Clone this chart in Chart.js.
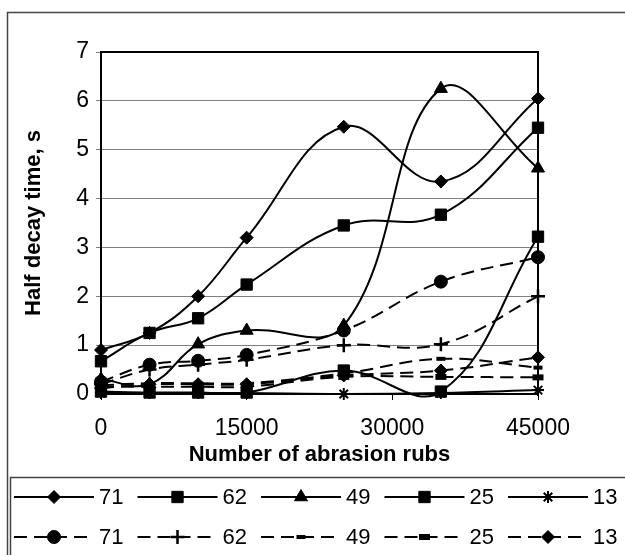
<!DOCTYPE html>
<html>
<head>
<meta charset="utf-8">
<script src="https://cdn.jsdelivr.net/npm/chart.js@4"></script>
<style>
  html, body { margin: 0; padding: 0; background: #fff; }
</style>
</head>
<body>
<canvas id="myChart" width="625" height="555"></canvas>
<script>
// abrasion rubs (x) and half decay time in s (y), one array per series
const rubs = [0, 5000, 10000, 15000, 25000, 35000, 45000];
const seriesNames = ['71', '62', '49', '25', '13', '71', '62', '49', '25', '13'];
const solid71 = [0.9, 1.25, 2.0, 3.2, 5.47, 4.35, 6.05];
const solid62 = [0.67, 1.25, 1.55, 2.24, 3.45, 3.67, 5.45];
const solid49 = [0.3, 0.2, 1.02, 1.3, 1.4, 6.25, 4.62];
const solid25 = [0.05, 0.03, 0.03, 0.03, 0.48, 0.05, 3.22];
const solid13 = [0.02, 0.02, 0.02, 0.02, 0.0, 0.02, 0.08];
const dashed71 = [0.25, 0.6, 0.68, 0.8, 1.3, 2.3, 2.8];
const dashed62 = [0.2, 0.5, 0.6, 0.7, 1.0, 1.02, 2.0];
const dashed49 = [0.18, 0.22, 0.22, 0.22, 0.42, 0.72, 0.54];
const dashed25 = [0.15, 0.15, 0.15, 0.15, 0.35, 0.35, 0.34];
const dashed13 = [0.12, 0.2, 0.2, 0.2, 0.38, 0.48, 0.75];
const xTicks = [0, 15000, 30000, 45000];

const FONT = "'Liberation Sans', Arial, sans-serif";
Chart.defaults.font.family = FONT;
Chart.defaults.color = '#000';

const makeSet = (name, values, style, radius, bw, dashed) => ({
    label: name,
    data: values.map((v, i) => ({ x: rubs[i], y: v })),
    borderColor: '#000',
    borderWidth: 2,
    borderDash: dashed ? [13, 7] : [],
    pointStyle: style,
    pointRadius: radius,
    pointBorderWidth: bw,
    pointBackgroundColor: '#000',
    pointBorderColor: '#000',
    clip: false
});

const datasets = [
    makeSet(seriesNames[0], solid71, 'rectRot', 6.5, 1, false),
    makeSet(seriesNames[1], solid62, 'rect', 8, 1, false),
    makeSet(seriesNames[2], solid49, 'triangle', 7.5, 1, false),
    makeSet(seriesNames[3], solid25, 'rect', 8, 1, false),
    makeSet(seriesNames[4], solid13, 'star', 6, 2, false),
    makeSet(seriesNames[5], dashed71, 'circle', 6.5, 1, true),
    makeSet(seriesNames[6], dashed62, 'cross', 7, 2.5, true),
    makeSet(seriesNames[7], dashed49, 'line', 4.5, 4, true),
    makeSet(seriesNames[8], dashed25, 'line', 5.5, 6, true),
    makeSet(seriesNames[9], dashed13, 'rectRot', 6.5, 1, true)
];

// frame of the plot, outer border and the boxed legend
const framePlugin = {
    id: 'framePlugin',
    beforeDraw(chart) {
        const c = chart.ctx;
        c.save();
        c.fillStyle = '#fff';
        c.fillRect(0, 0, chart.width, chart.height);
        c.restore();
    },
    afterDraw(chart) {
        const c = chart.ctx, a = chart.chartArea;
        c.save();
        c.strokeStyle = '#000';
        c.lineWidth = 2;
        c.strokeRect(a.left, a.top, a.right - a.left, a.bottom - a.top);

        c.strokeStyle = '#444';
        c.lineWidth = 1.5;
        c.beginPath();
        c.moveTo(7.5, 555); c.lineTo(7.5, 12.5); c.lineTo(625, 12.5);
        c.stroke();
        c.beginPath();
        c.moveTo(10.5, 555); c.lineTo(10.5, 477.5); c.lineTo(625, 477.5);
        c.stroke();

        c.font = '22px ' + FONT;
        c.textBaseline = 'middle';
        c.textAlign = 'left';
        chart.data.datasets.forEach((ds, i) => {
            const col = i % 5, row = Math.floor(i / 5);
            const x0 = 14 + col * 123.5, y = 497 + row * 40;
            c.strokeStyle = '#000';
            c.fillStyle = '#000';
            c.lineWidth = 2;
            c.setLineDash(ds.borderDash);
            c.beginPath();
            c.moveTo(x0, y); c.lineTo(x0 + 80, y);
            c.stroke();
            c.setLineDash([]);
            c.lineWidth = ds.pointBorderWidth;
            Chart.helpers.drawPoint(c, {
                pointStyle: ds.pointStyle, radius: ds.pointRadius,
                borderWidth: ds.pointBorderWidth, rotation: 0
            }, x0 + 40, y);
            c.fillStyle = '#000';
            c.fillText(ds.label, x0 + 85, y + 1);
        });
        c.restore();
    }
};

new Chart(document.getElementById('myChart'), {
    type: 'line',
    data: { datasets },
    options: {
        responsive: false,
        animation: false,
        layout: { padding: { left: 7, right: 87, top: 52, bottom: 78 } },
        plugins: { legend: { display: false }, tooltip: { enabled: false } },
        elements: { line: { tension: 0.4, capBezierPoints: false } },
        scales: {
            x: {
                type: 'linear', min: 0, max: 45000,
                afterBuildTicks: s => { s.ticks = xTicks.map(v => ({ value: v })); },
                afterFit: s => { s.height = 83; },
                ticks: { color: '#000', font: { size: 23 }, padding: 15, maxRotation: 0,
                         callback: v => String(v) },
                grid: { drawOnChartArea: false, tickLength: 6, color: '#000' },
                border: { color: '#000', width: 2 },
                title: { display: true, text: 'Number of abrasion rubs', color: '#000',
                         font: { size: 22, weight: 'bold' }, padding: { top: 0, bottom: 9 } }
            },
            y: {
                min: 0, max: 7,
                afterFit: s => { s.width = 94; },
                ticks: { stepSize: 1, color: '#000', font: { size: 23 }, padding: 7 },
                grid: { color: '#808080', tickLength: 5 },
                border: { color: '#000', width: 2 },
                title: { display: true, text: 'Half decay time, s', color: '#000',
                         font: { size: 22, weight: 'bold' }, padding: { top: 14, bottom: 0 } }
            }
        }
    },
    plugins: [framePlugin]
});
</script>
</body>
</html>
